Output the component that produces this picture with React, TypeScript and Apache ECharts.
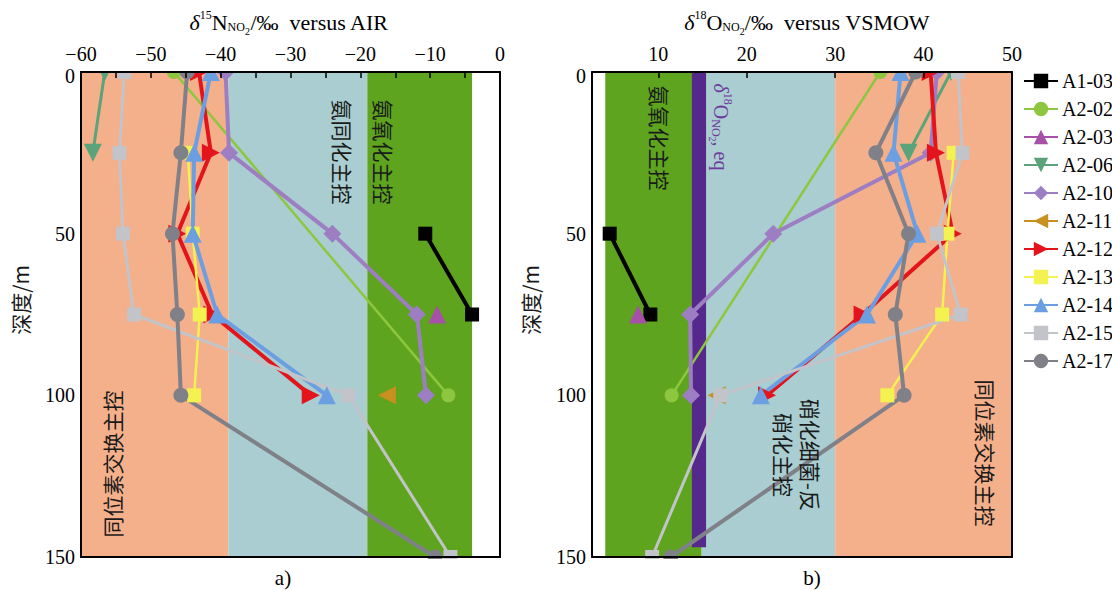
import React, { useEffect, useRef } from "react";
import * as echarts from "echarts";

// depth (m) of each sampling level
const depth = [0, 25, 50, 75, 100, 150];

const sampleNames = ["A1-03", "A2-02", "A2-03", "A2-06", "A2-10", "A2-11", "A2-12", "A2-13", "A2-14", "A2-15", "A2-17"];

// δ15N-NO2 (‰ vs AIR) per depth, null = no sample
const n15_A1_03 = [null, null, -10.7, -4.0, null, null];
const n15_A2_02 = [-46.7, null, null, null, -7.4, null];
const n15_A2_03 = [null, null, null, -9.0, null, null];
const n15_A2_06 = [-56.6, -58.3, null, null, null, null];
const n15_A2_10 = [-39.3, -38.8, -24.0, -11.9, -10.6, null];
const n15_A2_11 = [null, null, null, null, -16.2, null];
const n15_A2_12 = [-43.1, -41.4, -46.2, -41.2, -27.1, null];
const n15_A2_13 = [null, -44.7, -44.0, -43.0, -43.8, null];
const n15_A2_14 = [-41.4, -43.8, -44.0, -40.5, -24.8, null];
const n15_A2_15 = [-53.8, -54.5, -54.0, -52.4, -21.7, -7.1];
const n15_A2_17 = [-44.8, -45.7, -46.9, -46.2, -45.7, -9.3];

// δ18O-NO2 (‰ vs VSMOW) per depth
const o18_A1_03 = [null, null, 4.5, 9.1, null, null];
const o18_A2_02 = [35.1, null, null, null, 11.5, null];
const o18_A2_03 = [null, null, null, 7.7, null, null];
const o18_A2_06 = [43.1, 38.3, null, null, null, null];
const o18_A2_10 = [41.5, 40.8, 23.0, 13.6, 13.7, null];
const o18_A2_11 = [null, null, null, null, 16.6, null];
const o18_A2_12 = [40.8, 41.4, 43.3, 33.1, 22.3, null];
const o18_A2_13 = [null, 43.4, 42.7, 42.1, 35.9, null];
const o18_A2_14 = [37.4, 36.6, 39.3, 33.6, 21.6, null];
const o18_A2_15 = [43.9, 44.4, 41.5, 44.2, 17.0, 9.3];
const o18_A2_17 = [39.1, 34.6, 38.3, 36.8, 37.8, 11.4];

const n15Values = [n15_A1_03, n15_A2_02, n15_A2_03, n15_A2_06, n15_A2_10, n15_A2_11, n15_A2_12, n15_A2_13, n15_A2_14, n15_A2_15, n15_A2_17];
const o18Values = [o18_A1_03, o18_A2_02, o18_A2_03, o18_A2_06, o18_A2_10, o18_A2_11, o18_A2_12, o18_A2_13, o18_A2_14, o18_A2_15, o18_A2_17];

// process-band edges
const n15BandEdges = [-60, -38.9, -19.0, -4.0]; // 同位素交换 | 氨同化 | 氨氧化
const o18BandEdges = [4.0, 14.9, 30, 50]; // 氨氧化 | 硝化细菌-反硝化 | 同位素交换
const o18EqRange = [13.8, 15.4];
const o18EqDepth = [0, 147];
const depthRange = [0, 150];

const n15TickLabels = [-60, -50, -40, -30, -20, -10, 0];
const o18TickLabels = [10, 20, 30, 40, 50];
const o18TickMarks = [10, 20, 30, 40];
const depthTickLabels = [0, 50, 100, 150];

// styles
const styles = [
  { color: "#000000", symbol: "rect", rotate: 0, size: 14, width: 4 },
  { color: "#8DC63F", symbol: "circle", rotate: 0, size: 14, width: 2.5 },
  { color: "#A650A8", symbol: "triangle", rotate: 0, size: 18, width: 3 },
  { color: "#5BA37A", symbol: "triangle", rotate: 180, size: 18, width: 3 },
  { color: "#9D7EC2", symbol: "diamond", rotate: 0, size: 18, width: 4 },
  { color: "#C8901E", symbol: "triangle", rotate: 90, size: 18, width: 3 },
  { color: "#E3141B", symbol: "triangle", rotate: -90, size: 18, width: 4 },
  { color: "#F4F251", symbol: "rect", rotate: 0, size: 14, width: 2.5 },
  { color: "#6C9FE2", symbol: "triangle", rotate: 0, size: 18, width: 4 },
  { color: "#C3C3CA", symbol: "rect", rotate: 0, size: 14, width: 3 },
  { color: "#808088", symbol: "circle", rotate: 0, size: 15, width: 4 },
];
const C_EXCH = "#F4AF8B";
const C_TEAL = "#A9CDD0";
const C_GREEN = "#5EA41E";
const C_EQ = "#55288C";

const SERIF = "Liberation Serif, Times New Roman, serif";
const CJK = "Noto Sans CJK SC, Noto Sans CJK JP, sans-serif";

const minus = (v: number) => (v < 0 ? "\u2212" + Math.abs(v) : String(v));

export default function App() {
  const ref = useRef<HTMLDivElement>(null);
  useEffect(() => {
    document.body.style.margin = "0";
    const chart = echarts.init(ref.current!, null, { renderer: "svg" });

    const toPairs = (vals: (number | null)[]) =>
      depth.map((d, i) => (vals[i] == null ? null : [vals[i], d])).filter((p) => p !== null);

    const band = (x0: number, x1: number, y0: number, y1: number, color: string) => [
      { xAxis: x0, yAxis: y0, itemStyle: { color } },
      { xAxis: x1, yAxis: y1 },
    ];

    const dataSeries: any[] = [];
    [n15Values, o18Values].forEach((set, g) => {
      set.forEach((vals, i) => {
        const s = styles[i];
        dataSeries.push({
          type: "line",
          name: sampleNames[i],
          xAxisIndex: g * 2,
          yAxisIndex: g * 2,
          data: toPairs(vals),
          symbol: s.symbol,
          symbolRotate: s.rotate,
          symbolSize: s.size,
          showAllSymbol: true,
          color: s.color,
          itemStyle: { color: s.color, opacity: 1 },
          lineStyle: { color: s.color, width: s.width },
          z: 3,
          clip: false,
        });
      });
    });

    const bandSeries = [
      {
        type: "line",
        name: "bandsA",
        xAxisIndex: 0,
        yAxisIndex: 0,
        data: [],
        z: 1,
        silent: true,
        markArea: {
          silent: true,
          data: [
            band(n15BandEdges[0], n15BandEdges[1], depthRange[0], depthRange[1], C_EXCH),
            band(n15BandEdges[1], n15BandEdges[2], depthRange[0], depthRange[1], C_TEAL),
            band(n15BandEdges[2], n15BandEdges[3], depthRange[0], depthRange[1], C_GREEN),
          ],
        },
      },
      {
        type: "line",
        name: "bandsB",
        xAxisIndex: 2,
        yAxisIndex: 2,
        data: [],
        z: 1,
        silent: true,
        markArea: {
          silent: true,
          data: [
            band(o18BandEdges[0], o18BandEdges[1], depthRange[0], depthRange[1], C_GREEN),
            band(o18BandEdges[1], o18BandEdges[2], depthRange[0], depthRange[1], C_TEAL),
            band(o18BandEdges[2], o18BandEdges[3], depthRange[0], depthRange[1], C_EXCH),
          ],
        },
      },
      {
        type: "line",
        name: "eqBar",
        xAxisIndex: 2,
        yAxisIndex: 2,
        data: [],
        z: 6,
        silent: true,
        markArea: {
          silent: true,
          data: [band(o18EqRange[0], o18EqRange[1], o18EqDepth[0], o18EqDepth[1], C_EQ)],
        },
      },
    ];

    const axisLine = { show: true, onZero: false, lineStyle: { color: "#000", width: 2 } };
    const labelStyle = { color: "#000", fontFamily: SERIF, fontSize: 20, lineHeight: 14 };
    const lineOnlyX = (gridIndex: number, min: number, max: number) => ({
      type: "value", gridIndex, position: "bottom", min, max, z: 10,
      axisLine, axisTick: { show: false }, axisLabel: { show: false }, splitLine: { show: false },
    });
    const lineOnlyY = (gridIndex: number) => ({
      type: "value", gridIndex, position: "right", min: depthRange[0], max: depthRange[1], inverse: true, z: 10,
      axisLine, axisTick: { show: false }, axisLabel: { show: false }, splitLine: { show: false },
    });
    const depthAxis = (gridIndex: number) => ({
      type: "value", gridIndex, position: "left", min: depthRange[0], max: depthRange[1], interval: 50, inverse: true, z: 10,
      axisLine, axisTick: { show: false }, splitLine: { show: false },
      axisLabel: {
        ...labelStyle, margin: 6, customValues: depthTickLabels,
        formatter: (v: number) => (v === 0 ? "{top|0}" : String(v)),
        rich: { top: { fontFamily: SERIF, fontSize: 20, color: "#000", padding: [8, 0, 0, 0] } },
      },
    });

    const titleRich = (size: number) => ({
      i: { fontFamily: SERIF, fontStyle: "italic", fontSize: size },
      n: { fontFamily: SERIF, fontSize: size },
      sup: { fontFamily: SERIF, fontSize: 12, padding: [0, 0, 14, 0] },
      sub: { fontFamily: SERIF, fontSize: 12, padding: [10, 0, 0, 0] },
      sub2: { fontFamily: SERIF, fontSize: 10, padding: [18, 0, 0, 0] },
    });

    const vtext = (text: string, x: number, y: number, rot: number, extra: any = {}) => ({
      type: "text",
      x, y, rotation: rot, z: 12,
      style: { text, fontFamily: CJK, fontSize: 21, fill: "#1a1a1a", align: "center", verticalAlign: "middle", ...extra },
    });

    const option: any = {
      animation: false,
      backgroundColor: "#fff",
      textStyle: { fontFamily: SERIF },
      grid: [
        { left: 81, top: 72, width: 419, height: 485 },
        { left: 592, top: 72, width: 420, height: 485 },
      ],
      xAxis: [
        {
          type: "value", gridIndex: 0, position: "top", min: -60, max: 0, interval: 10, z: 10,
          axisLine,
          axisTick: { show: true, inside: true, length: 6, lineStyle: { color: "#000", width: 1.5 } },
          minorTick: { show: true, splitNumber: 2, length: 6, lineStyle: { color: "#000", width: 1.5 } },
          axisLabel: { ...labelStyle, margin: 11, formatter: (v: number) => minus(v), customValues: n15TickLabels },
          splitLine: { show: false },
        },
        lineOnlyX(0, -60, 0),
        {
          type: "value", gridIndex: 1, position: "top", min: 2.5, max: 50, z: 10,
          axisLine,
          axisTick: { show: true, inside: true, length: 6, lineStyle: { color: "#000", width: 1.5 }, customValues: o18TickMarks },
          axisLabel: { ...labelStyle, margin: 11, customValues: o18TickLabels },
          splitLine: { show: false },
        },
        lineOnlyX(1, 2.5, 50),
      ],
      yAxis: [depthAxis(0), lineOnlyY(0), depthAxis(1), lineOnlyY(1)],
      legend: {
        orient: "vertical",
        left: 1018,
        top: 66,
        itemWidth: 34,
        itemHeight: 18,
        itemGap: 8,
        data: sampleNames,
        textStyle: { color: "#000", fontFamily: SERIF, fontSize: 20, lineHeight: 18, padding: [0, 0, 0, -1] },
      },
      graphic: [
        // masks that clip markers at the top/bottom frame
        { type: "rect", z: 8, shape: { x: 82, y: 61, width: 417, height: 10 }, style: { fill: "#fff" } },
        { type: "rect", z: 8, shape: { x: 593, y: 61, width: 418, height: 10 }, style: { fill: "#fff" } },
        { type: "rect", z: 8, shape: { x: 82, y: 559, width: 417, height: 9 }, style: { fill: "#fff" } },
        { type: "rect", z: 8, shape: { x: 593, y: 559, width: 418, height: 9 }, style: { fill: "#fff" } },
        {
          type: "text", x: 289, y: 22, z: 12,
          style: {
            text: "{i|δ}{sup|15}{n|N}{sub|NO}{sub2|2}{n|/‰  versus AIR}",
            rich: titleRich(22), fill: "#000", align: "center", verticalAlign: "middle",
          },
        },
        {
          type: "text", x: 807, y: 22, z: 12,
          style: {
            text: "{i|δ}{sup|18}{n|O}{sub|NO}{sub2|2}{n|/‰  versus VSMOW}",
            rich: titleRich(22), fill: "#000", align: "center", verticalAlign: "middle",
          },
        },
        vtext("深度/m", 20, 300, Math.PI / 2),
        vtext("深度/m", 530, 300, Math.PI / 2),
        { type: "text", x: 283, y: 578, z: 12, style: { text: "a)", fontFamily: SERIF, fontSize: 21, fill: "#000", align: "center", verticalAlign: "middle" } },
        { type: "text", x: 812, y: 578, z: 12, style: { text: "b)", fontFamily: SERIF, fontSize: 21, fill: "#000", align: "center", verticalAlign: "middle" } },
        vtext("同位素交换主控", 112, 464, Math.PI / 2),
        vtext("氨同化主控", 343, 152, -Math.PI / 2),
        vtext("氨氧化主控", 384, 152, -Math.PI / 2),
        vtext("氨氧化主控", 660, 138, -Math.PI / 2),
        vtext("硝化细菌-反\n硝化主控", 797, 455, -Math.PI / 2, { lineHeight: 27 }),
        vtext("同位素交换主控", 986, 453, -Math.PI / 2),
        {
          type: "text", x: 721, y: 127, z: 12, rotation: -Math.PI / 2,
          style: {
            text: "{i|δ}{sup|18}{n|O}{sub|NO}{sub2|2}{n|, eq}",
            rich: {
              i: { fontFamily: SERIF, fontStyle: "italic", fontSize: 20, fill: "#6E3A9E" },
              n: { fontFamily: SERIF, fontSize: 20, fill: "#6E3A9E" },
              sup: { fontFamily: SERIF, fontSize: 12, padding: [0, 0, 14, 0], fill: "#6E3A9E" },
              sub: { fontFamily: SERIF, fontSize: 12, padding: [10, 0, 0, 0], fill: "#6E3A9E" },
              sub2: { fontFamily: SERIF, fontSize: 10, padding: [18, 0, 0, 0], fill: "#6E3A9E" },
            },
            fill: "#6E3A9E", align: "center", verticalAlign: "middle",
          },
        },
      ],
      series: [...bandSeries, ...dataSeries],
    };
    chart.setOption(option);
    return () => chart.dispose();
  }, []);
  return <div ref={ref} style={{ width: 1112, height: 590 }} />;
}
